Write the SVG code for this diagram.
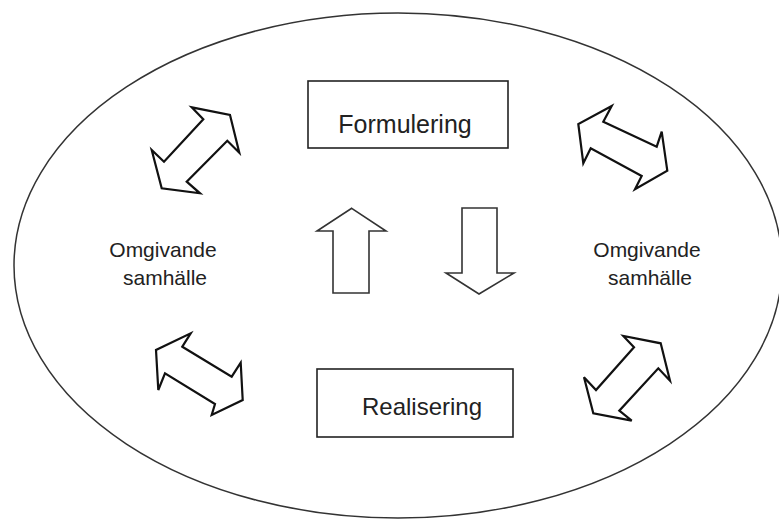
<svg xmlns="http://www.w3.org/2000/svg" width="779" height="521" viewBox="0 0 779 521">
<style>
.box{fill:#fff;stroke:#222;stroke-width:1.6}
.arr{fill:#fff;stroke:#111;stroke-width:2.2;stroke-linejoin:miter}
.varr{fill:#fff;stroke:#333;stroke-width:1.6}
.lbl{font-family:"Liberation Sans",Arial,sans-serif;fill:#222;text-anchor:middle}
</style>
<rect width="779" height="521" fill="#fff"/>
<ellipse id="society" cx="398" cy="265.5" rx="384" ry="252.5" fill="none" stroke="#333" stroke-width="1.5"/>
<g id="formulering">
<rect class="box" x="308" y="81" width="200" height="67"/>
<text class="lbl" x="405" y="133" font-size="25">Formulering</text>
</g>
<g id="realisering">
<rect class="box" x="317" y="369" width="196" height="68"/>
<text class="lbl" x="422" y="415" font-size="24">Realisering</text>
</g>
<g id="omgivande-left">
<text class="lbl" x="163" y="257" font-size="21">Omgivande</text>
<text class="lbl" x="165" y="285" font-size="21">samhälle</text>
</g>
<g id="omgivande-right">
<text class="lbl" x="647" y="257" font-size="21">Omgivande</text>
<text class="lbl" x="650" y="285" font-size="21">samhälle</text>
</g>
<g id="connectors">
<polygon class="varr" points="351.7,208.3 386,231 369,231 369,293 333,293 333,231 317,231"/>
<polygon class="varr" points="462,208 497,208 497,273 514,273 479,294 446,273 462,273"/>
<polygon class="arr" points="230,115 239.3,152.7 227.3,140.7 186.7,181.7 200,193.3 161.7,188.3 151.7,150 164,161.7 203.3,119.3 191.7,107.3"/>
<polygon class="arr" points="603.3,121.7 656.7,146.7 661.7,131.7 667.3,170.7 635,189.3 641.7,176 590.7,148.3 583.3,163.3 578.3,124 611.7,106"/>
<polygon class="arr" points="182.3,346.7 231.7,376.7 240.7,362.7 242.7,400 211.7,415 215,404 165,373.3 158.3,390 156,350 190.7,333.3"/>
<polygon class="arr" points="660.7,343.3 670,380.7 658.3,368.3 619.3,410.7 631.7,420.7 593.3,413.3 584,377.3 596,390 634,347.3 623.3,336"/>
</g>
</svg>
